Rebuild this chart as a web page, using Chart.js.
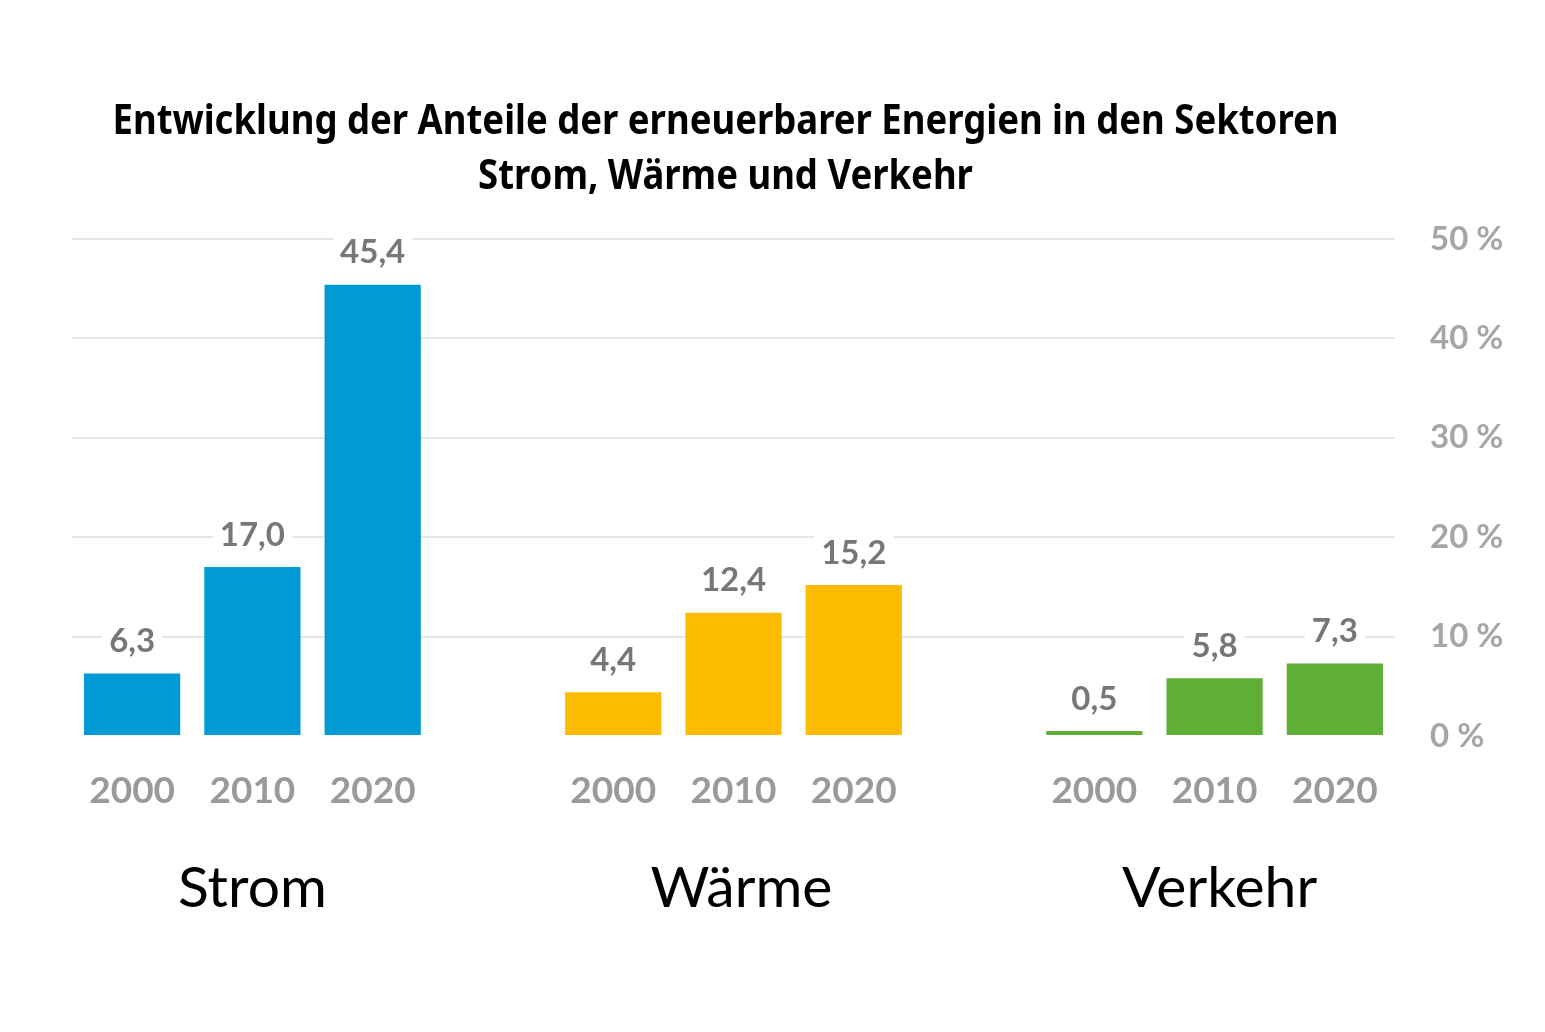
<!DOCTYPE html>
<html>
<head>
<meta charset="utf-8">
<script src="https://cdn.jsdelivr.net/npm/chart.js@4"></script>
<style>
  html, body { margin: 0; padding: 0; background: #fff; }
</style>
</head>
<body>
<canvas id="myChart" width="1545" height="1032"></canvas>
<script>
// data
const years = ['2000', '2010', '2020'];
const sectors = ['Strom', 'Wärme', 'Verkehr'];
const strom = [6.3, 17.0, 45.4];
const waerme = [4.4, 12.4, 15.2];
const verkehr = [0.5, 5.8, 7.3];
const sectorColors = ['#009bd5', '#fabb00', '#5fae36'];
const yTicks = [0, 10, 20, 30, 40, 50];
const titleLines = [
    'Entwicklung der Anteile der erneuerbarer Energien in den Sektoren',
    'Strom, Wärme und Verkehr'
];

// build slots: 3 bars per sector, one empty slot between sectors
let labels = [];
let values = [];
let colors = [];
let sectorIndex = [];
[strom, waerme, verkehr].forEach(function (s, k) {
    if (k > 0) { labels.push(''); values.push(null); colors.push('transparent'); }
    sectorIndex.push(labels.length + 1);
    s.forEach(function (v, i) {
        labels.push(years[i]);
        values.push(v);
        colors.push(sectorColors[k]);
    });
});

const valueLabels = {
    id: 'valueLabels',
    afterDatasetsDraw(chart) {
        const ctx = chart.ctx;
        const meta = chart.getDatasetMeta(0);
        ctx.save();
        ctx.font = 'bold 33px Lato';
        ctx.textAlign = 'center';
        ctx.textBaseline = 'middle';
        meta.data.forEach(function (bar, i) {
            const v = values[i];
            if (v == null) return;
            const txt = v.toFixed(1).replace('.', ',');
            const w = ctx.measureText(txt).width;
            const cy = bar.y - 32;
            ctx.fillStyle = '#fff';
            ctx.fillRect(bar.x - w / 2 - 7, cy - 18, w + 14, 36);
            ctx.fillStyle = '#777777';
            ctx.fillText(txt, bar.x, cy);
        });
        ctx.restore();
    }
};

const extraText = {
    id: 'extraText',
    afterDraw(chart) {
        const ctx = chart.ctx;
        const xs = chart.scales.x;
        const area = chart.chartArea;
        ctx.save();
        ctx.textAlign = 'center';
        ctx.textBaseline = 'middle';
        // sector names
        ctx.fillStyle = '#000';
        ctx.font = '57px Lato';
        const nudge = [0, 8, 5];
        sectors.forEach(function (s, k) {
            ctx.fillText(s, xs.getPixelForValue(sectorIndex[k]) + nudge[k], area.bottom + 153);
        });
        // title, condensed to the width of the original
        ctx.font = 'bold 42px "Noto Sans"';
        const sx = 1226 / ctx.measureText(titleLines[0]).width;
        const cx = (area.left + area.right) / 2 - 8;
        ctx.translate(cx, 0);
        ctx.scale(sx, 1);
        ctx.fillText(titleLines[0], 0, area.top - 117);
        ctx.fillText(titleLines[1], 0, area.top - 62);
        ctx.restore();
    }
};

const ctx = document.getElementById('myChart').getContext('2d');
const myChart = new Chart(ctx, {
    type: 'bar',
    data: {
        labels: labels,
        datasets: [{
            data: values,
            backgroundColor: colors,
            barPercentage: 0.8,
            categoryPercentage: 1.0
        }]
    },
    options: {
        responsive: false,
        devicePixelRatio: 1,
        animation: false,
        layout: { padding: { top: 239, left: 72, right: 0, bottom: 219 } },
        plugins: {
            legend: { display: false },
            title: { display: false },
            tooltip: { enabled: false }
        },
        scales: {
            x: {
                grid: { display: false, drawTicks: false },
                border: { display: false },
                ticks: {
                    padding: 33,
                    color: '#9a9a9a',
                    font: { family: 'Lato', size: 37, weight: 'bold' },
                    maxRotation: 0,
                    autoSkip: false
                },
                afterFit(scale) { scale.height = 77; }
            },
            y: {
                position: 'right',
                min: 0,
                max: 50,
                afterBuildTicks(scale) {
                    scale.ticks = yTicks.map(function (v) { return { value: v }; });
                },
                grid: {
                    drawTicks: false,
                    lineWidth: 2,
                    color: function (c) { return c.tick && c.tick.value === 0 ? 'rgba(0,0,0,0)' : '#e6e6e6'; }
                },
                border: { display: false },
                ticks: {
                    padding: 35,
                    color: '#a6a6a6',
                    font: { family: 'Lato', size: 33, weight: 'bold' },
                    callback: function (v) { return v + ' %'; }
                },
                afterFit(scale) { scale.width = 150; }
            }
        }
    },
    plugins: [valueLabels, extraText]
});
</script>
</body>
</html>
